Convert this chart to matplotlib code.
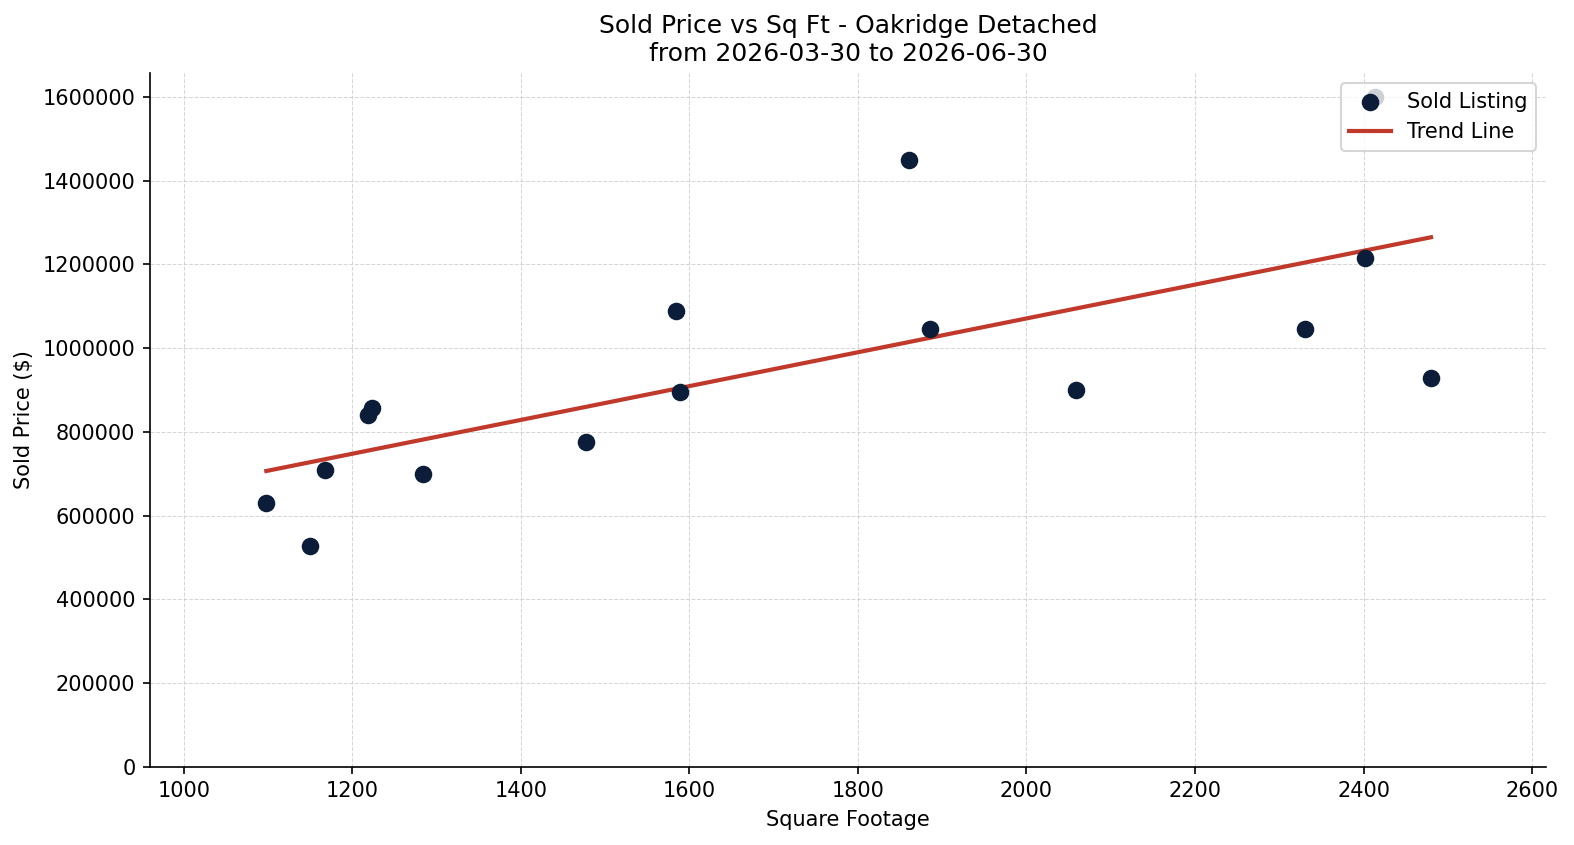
import numpy as np
import matplotlib
matplotlib.use("Agg")
import matplotlib.pyplot as plt

# sold listings
sqft = [1098, 1150, 1168, 1219, 1224, 1284, 1477, 1584, 1589,
        1861, 1885, 2059, 2330, 2402, 2413, 2480]
price = [630000, 527000, 710000, 840000, 858000, 699000, 775000, 1088000, 895000,
         1450000, 1045000, 899000, 1045000, 1215000, 1600000, 928000]

title = "Sold Price vs Sq Ft - Oakridge Detached\nfrom 2026-03-30 to 2026-06-30"

x = np.array(sqft)
y = np.array(price)
slope, intercept = np.polyfit(x, y, 1)
xs = np.array([x.min(), x.max()])

fig, ax = plt.subplots(figsize=(1574 / 150, 845 / 150), dpi=150)
fig.subplots_adjust(left=0.0953, right=0.9825, top=0.9136, bottom=0.0925)

ax.scatter(x, y, s=55, color="#0b1d38", label="Sold Listing", zorder=3)
ax.plot(xs, slope * xs + intercept, color="#c0392b", linewidth=2, label="Trend Line", zorder=2)

ax.set_xlim(960, 2617)
ax.set_ylim(0, 1657000)
ax.ticklabel_format(style="plain", axis="y", useOffset=False)
ax.grid(True, linestyle="--", linewidth=0.5, color="#cccccc", alpha=0.8)
ax.set_axisbelow(True)
for s in ["top", "right"]:
    ax.spines[s].set_visible(False)

ax.set_xlabel("Square Footage")
ax.set_ylabel("Sold Price ($)")
ax.set_title(title, fontsize=12)
ax.legend(loc="upper right")

fig.savefig("out.png", dpi=150)
